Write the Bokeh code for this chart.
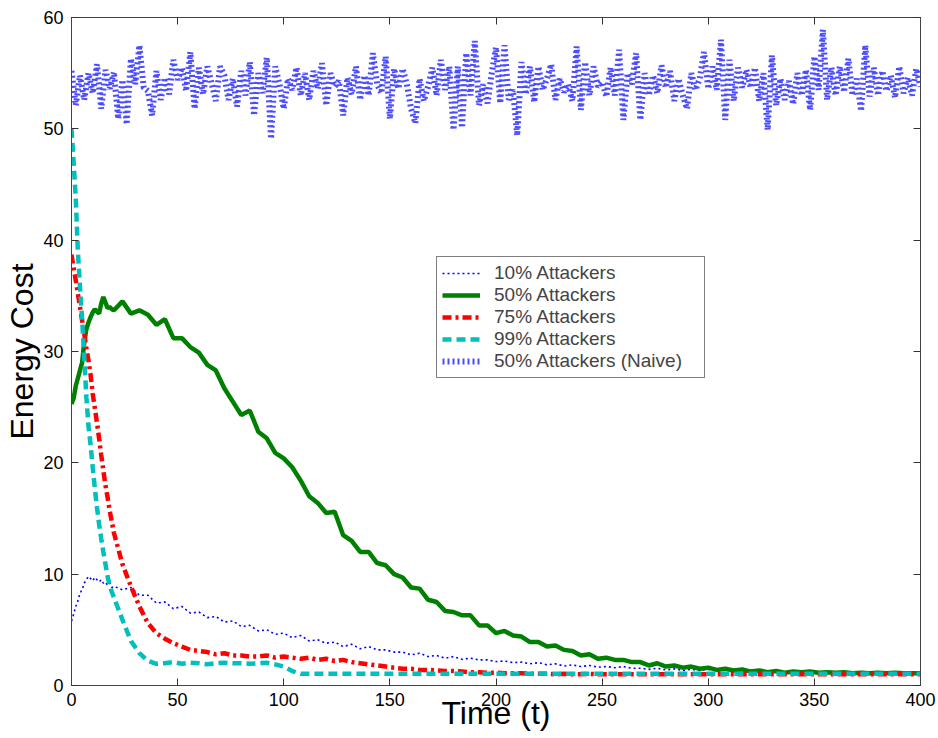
from bokeh.plotting import figure
from bokeh.models import Range1d, LinearAxis, FixedTicker, Legend, LegendItem
from bokeh.embed import file_html
from bokeh.resources import INLINE

# ---------------- data ----------------
t_early = list(range(0, 20))
t_late = list(range(20, 401, 4))
t_main = t_early + t_late
t_naive = list(range(0, 401, 2))

x_ticks = [0, 50, 100, 150, 200, 250, 300, 350, 400]
y_ticks = [0, 10, 20, 30, 40, 50, 60]

labels = ["10% Attackers", "50% Attackers", "75% Attackers", "99% Attackers", "50% Attackers (Naive)"]

cost_10 = [5.8, 6.4, 7.1, 7.6, 8.3, 8.6, 9.2, 9.5, 9.8, 9.6, 9.4, 9.7, 9.5, 9.3, 9.5, 9.2, 9.3, 9.0, 9.2, 8.8,
           8.9, 8.6, 8.8, 8.1, 8.1, 7.4, 7.5, 6.9, 7.1, 6.5,
           6.6, 6.1, 6.2, 5.7, 5.8, 5.3, 5.4, 4.9, 5.0, 4.6,
           4.7, 4.3, 4.5, 4.0, 4.1, 3.8, 3.9, 3.5, 3.7, 3.3,
           3.5, 3.2, 3.2, 3.0, 3.0, 2.75, 2.9, 2.6, 2.7, 2.45,
           2.6, 2.35, 2.45, 2.3, 2.3, 2.15, 2.2, 2.05, 2.1, 1.95,
           2.05, 1.85, 1.95, 1.75, 1.85, 1.7, 1.8, 1.65, 1.7, 1.6,
           1.7, 1.55, 1.55, 1.45, 1.55, 1.4, 1.5, 1.35, 1.45, 1.35,
           1.45, 1.3, 1.4, 1.25, 1.35, 1.25, 1.35, 1.2, 1.3, 1.2,
           1.3, 1.15, 1.3, 1.15, 1.25, 1.15, 1.25, 1.15, 1.25, 1.15,
           1.25, 1.15, 1.25, 1.15, 1.2, 1.2]

cost_50 = [25.3, 25.8, 26.9, 27.6, 28.3, 29.0, 30.8, 32.0, 32.6, 33.1, 33.5, 33.8, 33.6, 33.4, 34.3, 34.9, 34.4, 33.9, 34.0, 33.8,
           33.7, 34.5, 33.4, 33.7, 33.3, 32.4, 32.9, 31.2, 31.2, 30.4,
           29.9, 28.8, 28.3, 26.7, 25.5, 24.3, 24.7, 22.8, 22.2, 20.9,
           20.4, 19.6, 18.4, 17.0, 16.4, 15.5, 15.6, 13.5, 13.0, 12.0,
           12.0, 11.0, 10.8, 10.0, 9.7, 8.8, 8.7, 7.7, 7.5, 6.7,
           6.6, 6.3, 6.3, 5.4, 5.4, 4.7, 4.9, 4.5, 4.4, 3.9,
           3.9, 3.5, 3.6, 3.2, 3.1, 2.7, 2.8, 2.4, 2.5, 2.3,
           2.3, 2.1, 2.1, 1.8, 2.0, 1.7, 1.8, 1.6, 1.7, 1.5,
           1.6, 1.4, 1.5, 1.35, 1.45, 1.25, 1.35, 1.2, 1.3, 1.15,
           1.25, 1.2, 1.25, 1.15, 1.2, 1.15, 1.2, 1.1, 1.15, 1.1,
           1.15, 1.1, 1.15, 1.1, 1.1, 1.1]

cost_75 = [38.7, 37.5, 36.4, 35.2, 34.0, 32.8, 31.6, 30.3, 29.2, 27.9, 26.2, 24.9, 23.6, 22.2, 20.7, 19.3, 18.0, 16.9, 15.7, 14.7,
           13.7, 10.9, 8.9, 7.1, 5.6, 4.7, 4.2, 3.8, 3.5, 3.2,
           3.1, 3.0, 2.8, 2.9, 2.7, 2.7, 2.6, 2.6, 2.7, 2.5,
           2.6, 2.5, 2.4, 2.5, 2.3, 2.4, 2.2, 2.3, 2.1, 2.0,
           1.9, 1.8, 1.7, 1.6, 1.5, 1.5, 1.4, 1.4, 1.35, 1.3,
           1.3, 1.25, 1.2, 1.2, 1.15, 1.15, 1.1, 1.1, 1.1, 1.05,
           1.05, 1.05, 1.0, 1.05, 1.0, 1.0, 1.05, 1.0, 1.0, 1.0,
           1.0, 1.0, 1.0, 1.0, 1.0, 1.0, 1.0, 1.0, 1.0, 1.0,
           1.0, 1.0, 1.0, 1.0, 1.0, 1.0, 1.0, 1.0, 1.0, 1.0,
           1.0, 1.0, 1.0, 1.0, 1.0, 1.0, 1.0, 1.0, 1.0, 1.0,
           1.0, 1.0, 1.0, 1.0, 1.0, 1.0]

cost_99 = [50.0, 47.0, 43.8, 39.0, 35.8, 32.9, 29.5, 25.9, 23.3, 21.6, 19.6, 17.7, 16.0, 14.5, 13.2, 12.0, 10.9, 9.8, 9.0, 8.4,
           7.9, 5.9, 4.0, 2.9, 2.2, 1.95, 2.0, 2.1, 1.95, 2.05,
           2.0, 1.9, 2.0, 2.05, 2.0, 2.0, 1.95, 2.0, 2.05, 1.9,
           1.7, 1.3, 1.05, 1.05, 1.05, 1.05, 1.05, 1.05, 1.05, 1.05,
           1.05, 1.05, 1.05, 1.05, 1.05, 1.05, 1.05, 1.05, 1.05, 1.05,
           1.05, 1.05, 1.05, 1.05, 1.05, 1.05, 1.05, 1.05, 1.05, 1.05,
           1.05, 1.05, 1.05, 1.05, 1.05, 1.05, 1.05, 1.05, 1.05, 1.05,
           1.05, 1.05, 1.05, 1.05, 1.05, 1.05, 1.05, 1.05, 1.05, 1.05,
           1.05, 1.05, 1.05, 1.05, 1.05, 1.05, 1.05, 1.05, 1.05, 1.05,
           1.05, 1.05, 1.05, 1.05, 1.05, 1.05, 1.05, 1.05, 1.05, 1.05,
           1.05, 1.05, 1.05, 1.05, 1.05, 1.05]

cost_naive = [55.2, 52.1, 54.8, 52.6, 55.0, 53.2, 55.8, 51.8, 55.3, 53.6,
              55.1, 50.9, 54.4, 50.4, 56.3, 54.0, 57.5, 53.7, 53.4, 51.2,
              55.2, 52.6, 54.6, 53.1, 56.2, 54.4, 55.5, 53.4, 56.9, 51.8,
              55.5, 53.1, 55.6, 54.1, 52.5, 55.6, 54.8, 52.6, 54.5, 52.0,
              55.2, 53.0, 56.0, 51.2, 55.0, 53.2, 56.4, 49.1, 55.6, 54.0,
              51.8, 54.5, 53.5, 55.5, 53.0, 55.0, 52.6, 55.2, 53.6, 55.9,
              52.1, 55.0, 53.8, 54.3, 51.2, 54.6, 53.1, 55.6, 52.6, 54.8,
              53.0, 56.8, 54.0, 53.2, 56.5, 50.9, 55.4, 53.6, 55.4, 54.0,
              51.8, 50.5, 54.5, 52.5, 53.8, 55.5, 53.0, 56.2, 53.5, 55.6,
              49.9, 55.6, 50.1, 56.8, 53.0, 57.9, 52.1, 54.0, 52.3, 55.0,
              57.3, 52.3, 57.5, 52.6, 53.5, 49.4, 56.0, 53.1, 55.6, 52.4,
              55.6, 53.5, 54.5, 55.8, 52.6, 54.5, 53.3, 54.0, 52.5, 57.4,
              51.7, 56.0, 53.0, 55.6, 53.8, 54.2, 52.9, 55.5, 53.0, 57.1,
              50.8, 55.0, 54.0, 56.8, 50.8, 55.0, 53.0, 54.8, 53.2, 55.7,
              53.7, 55.2, 52.5, 54.5, 53.0, 51.8, 55.0, 53.5, 54.5, 56.9,
              53.6, 55.6, 53.5, 58.0, 50.8, 56.2, 52.5, 55.5, 53.7, 55.3,
              53.7, 55.5, 52.5, 55.0, 49.9, 56.6, 52.1, 54.5, 52.6, 54.3,
              52.2, 55.0, 53.0, 55.3, 51.7, 56.5, 53.5, 58.9, 52.6, 55.5,
              53.0, 55.6, 53.3, 56.3, 53.0, 54.5, 51.6, 57.5, 52.9, 55.5,
              53.0, 55.2, 53.4, 54.8, 52.8, 55.6, 53.2, 54.6, 53.0, 55.4,
              53.8]

for name, arr, tt in [("cost_10", cost_10, t_main), ("cost_50", cost_50, t_main),
                      ("cost_75", cost_75, t_main), ("cost_99", cost_99, t_main),
                      ("cost_naive", cost_naive, t_naive)]:
    if len(arr) != len(tt):
        raise ValueError(f"{name}: {len(arr)} values vs {len(tt)} times")

# ---------------- figure ----------------
FONT = "Liberation Sans"

p = figure(width=938, height=738, output_backend="svg", toolbar_location=None,
           x_range=Range1d(0, 400), y_range=Range1d(0, 60),
           min_border_left=71, min_border_right=18, min_border_top=17, min_border_bottom=53,
           x_axis_label="Time (t)", y_axis_label="Energy Cost")
p.grid.visible = False
p.outline_line_color = "black"
p.outline_line_width = 1
p.background_fill_color = "white"
p.border_fill_color = "white"


def style_axis(ax, ticks):
    ax.ticker = FixedTicker(ticks=ticks)
    ax.major_tick_in = 7
    ax.major_tick_out = 0
    ax.minor_tick_line_color = None
    ax.axis_line_color = "#444444"
    ax.major_tick_line_color = "#333333"
    ax.major_label_text_font = FONT
    ax.major_label_text_font_size = "18px"
    ax.major_label_text_color = "black"
    ax.axis_label_text_font = FONT
    ax.axis_label_text_font_style = "normal"
    ax.axis_label_text_color = "black"


xa = p.xaxis[0]
style_axis(xa, x_ticks)
xa.major_label_standoff = 7
xa.axis_label_text_font_size = "32px"
xa.axis_label_standoff = -14

ya = p.yaxis[0]
style_axis(ya, y_ticks)
ya.major_label_standoff = 8
ya.axis_label_text_font_size = "32px"
ya.axis_label_standoff = 0

for side, ticks in (("above", x_ticks), ("right", y_ticks)):
    ax = LinearAxis()
    style_axis(ax, ticks)
    ax.major_label_text_font_size = "0px"
    ax.major_label_text_color = None
    ax.major_label_standoff = 0
    p.add_layout(ax, side)

r10 = p.line(t_main, cost_10, line_color="#0000ff", line_width=1.6, line_dash="2 3")
r50 = p.line(t_main, cost_50, line_color="#008000", line_width=4.5)
r75 = p.line(t_main, cost_75, line_color="#ff0000", line_width=4.5, line_dash="9 4 3 4")
r99 = p.line(t_main, cost_99, line_color="#00bfbf", line_width=4.5, line_dash="9 5")
rnv = p.line(t_naive, cost_naive, line_color="#0000ff", line_alpha=0.7, line_width=6, line_dash="2 3")

legend = Legend(items=[LegendItem(label=labels[0], renderers=[r10]),
                       LegendItem(label=labels[1], renderers=[r50]),
                       LegendItem(label=labels[2], renderers=[r75]),
                       LegendItem(label=labels[3], renderers=[r99]),
                       LegendItem(label=labels[4], renderers=[rnv])],
                location=(365, 307))
legend.label_text_font = FONT
legend.label_text_font_size = "19px"
legend.label_height = 20
legend.label_width = 205
legend.glyph_height = 20
legend.glyph_width = 38
legend.label_standoff = 14
legend.spacing = 0
legend.padding = 5
legend.margin = 0
legend.border_line_color = "black"
legend.border_line_width = 1
legend.background_fill_color = "white"
legend.background_fill_alpha = 1
p.add_layout(legend, "center")

open("out.html", "w").write(file_html(p, INLINE))
